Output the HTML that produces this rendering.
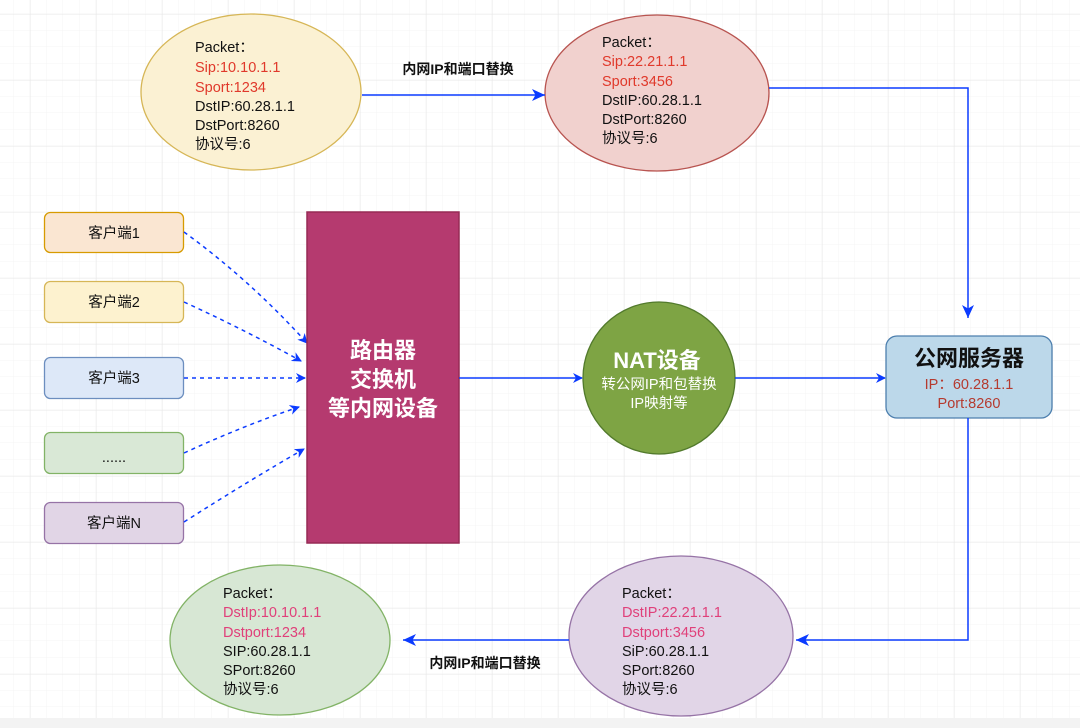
<!DOCTYPE html>
<html><head><meta charset="utf-8"><style>
html,body{margin:0;padding:0;background:#fff}
svg{display:block}
text{font-family:"Liberation Sans","Noto Sans CJK SC",sans-serif}
</style></head><body>
<svg width="1080" height="728" viewBox="0 0 1080 728" xmlns="http://www.w3.org/2000/svg">
<defs>
<pattern id="g" width="16.5" height="16.5" patternUnits="userSpaceOnUse"><path d="M16.5 0V16.5H0" fill="none" stroke="#f4f4f4" stroke-width="1"/></pattern>
<pattern id="G" width="66" height="66" patternUnits="userSpaceOnUse" x="30" y="14"><rect width="66" height="66" fill="url(#g)"/><path d="M0 0V66M0 0H66" fill="none" stroke="#e8e8e8" stroke-width="1"/></pattern>
<marker id="a" markerWidth="10" markerHeight="10" refX="9" refY="5" orient="auto" markerUnits="userSpaceOnUse"><path d="M0,0 L10,5 L0,10 L3,5 Z" fill="#0b3bff"/></marker>
<marker id="b" markerWidth="14" markerHeight="12" refX="13" refY="6" orient="auto" markerUnits="userSpaceOnUse"><path d="M0,0 L13,6 L0,12 L3.5,6 Z" fill="#0b3bff"/></marker>
</defs>
<rect width="1080" height="728" fill="url(#G)"/>
<rect y="718" width="1080" height="10" fill="#f3f3f3"/>

<ellipse cx="251" cy="92" rx="110" ry="78" fill="#fbf1d3" stroke="#d6b656" stroke-width="1.3"/>
<g font-size="14.5" fill="#111">
<text x="195" y="52">Packet：</text>
<text x="195" y="72" fill="#e0392b">Sip:10.10.1.1</text>
<text x="195" y="92" fill="#e0392b">Sport:1234</text>
<text x="195" y="111">DstIP:60.28.1.1</text>
<text x="195" y="130">DstPort:8260</text>
<text x="195" y="149">协议号:6</text>
</g>
<ellipse cx="657" cy="93" rx="112" ry="78" fill="#f1d1ce" stroke="#b85450" stroke-width="1.3"/>
<g font-size="14.5" fill="#111">
<text x="602" y="47">Packet：</text>
<text x="602" y="66" fill="#e0392b">Sip:22.21.1.1</text>
<text x="602" y="86" fill="#e0392b">Sport:3456</text>
<text x="602" y="105">DstIP:60.28.1.1</text>
<text x="602" y="124">DstPort:8260</text>
<text x="602" y="143">协议号:6</text>
</g>
<line x1="362" y1="95" x2="545" y2="95" stroke="#0b3bff" stroke-width="1.5" marker-end="url(#b)"/>
<text x="458" y="74" font-size="14" font-weight="bold" text-anchor="middle" fill="#111">内网IP和端口替换</text>
<polyline points="769,88 968,88 968,318" fill="none" stroke="#0b3bff" stroke-width="1.5" marker-end="url(#b)"/>

<g stroke-width="1.3">
<rect x="44.5" y="212.5" width="139" height="40" rx="6" fill="#fae6d2" stroke="#d79b00"/>
<rect x="44.5" y="281.5" width="139" height="41" rx="6" fill="#fdf2cf" stroke="#d6b656"/>
<rect x="44.5" y="357.5" width="139" height="41" rx="6" fill="#dde8f8" stroke="#6c8ebf"/>
<rect x="44.5" y="432.5" width="139" height="41" rx="6" fill="#d9e8d6" stroke="#82b366"/>
<rect x="44.5" y="502.5" width="139" height="41" rx="6" fill="#e1d5e6" stroke="#9673a6"/>
</g>
<g font-size="14.5" fill="#111" text-anchor="middle">
<text x="114" y="238">客户端1</text>
<text x="114" y="307">客户端2</text>
<text x="114" y="383">客户端3</text>
<text x="114" y="462">......</text>
<text x="114" y="528">客户端N</text>
</g>
<g stroke="#0b3bff" stroke-width="1.5" stroke-dasharray="4,4" fill="none">
<path d="M184,232 Q250,280 307,343" marker-end="url(#a)"/>
<path d="M184,302 Q245,330 301,361" marker-end="url(#a)"/>
<path d="M184,378 L305,378" marker-end="url(#a)"/>
<path d="M184,453 Q245,425 299,407" marker-end="url(#a)"/>
<path d="M184,522 Q250,480 304,449" marker-end="url(#a)"/>
</g>

<rect x="307" y="212" width="152" height="331" fill="#b53a6f" stroke="#962a55" stroke-width="1.5"/>
<g font-size="22" font-weight="bold" fill="#fff" text-anchor="middle">
<text x="383" y="358">路由器</text>
<text x="383" y="387">交换机</text>
<text x="383" y="416">等内网设备</text>
</g>
<line x1="459" y1="378" x2="582" y2="378" stroke="#0b3bff" stroke-width="1.5" marker-end="url(#a)"/>

<circle cx="659" cy="378" r="76" fill="#7ea444" stroke="#527a2c" stroke-width="1.3"/>
<text x="657" y="368" font-size="22" font-weight="bold" fill="#fff" text-anchor="middle">NAT设备</text>
<g font-size="14.5" fill="#fff" text-anchor="middle">
<text x="659" y="389">转公网IP和包替换</text>
<text x="659" y="408">IP映射等</text>
</g>
<line x1="735" y1="378" x2="885" y2="378" stroke="#0b3bff" stroke-width="1.5" marker-end="url(#a)"/>

<rect x="886" y="336" width="166" height="82" rx="11" fill="#bcd8ea" stroke="#4d7fae" stroke-width="1.3"/>
<text x="969" y="366" font-size="22" font-weight="bold" fill="#111" text-anchor="middle">公网服务器</text>
<g font-size="14.5" fill="#b53a2f" text-anchor="middle">
<text x="969" y="389">IP：60.28.1.1</text>
<text x="969" y="408">Port:8260</text>
</g>
<polyline points="968,418 968,640 796,640" fill="none" stroke="#0b3bff" stroke-width="1.5" marker-end="url(#b)"/>

<ellipse cx="681" cy="636" rx="112" ry="80" fill="#e1d5e7" stroke="#9673a6" stroke-width="1.3"/>
<g font-size="14.5" fill="#111">
<text x="622" y="598">Packet：</text>
<text x="622" y="617" fill="#e0407a">DstIP:22.21.1.1</text>
<text x="622" y="637" fill="#e0407a">Dstport:3456</text>
<text x="622" y="656">SiP:60.28.1.1</text>
<text x="622" y="675">SPort:8260</text>
<text x="622" y="694">协议号:6</text>
</g>
<ellipse cx="280" cy="640" rx="110" ry="75" fill="#d7e7d4" stroke="#82b366" stroke-width="1.3"/>
<g font-size="14.5" fill="#111">
<text x="223" y="598">Packet：</text>
<text x="223" y="617" fill="#e0407a">DstIp:10.10.1.1</text>
<text x="223" y="637" fill="#e0407a">Dstport:1234</text>
<text x="223" y="656">SIP:60.28.1.1</text>
<text x="223" y="675">SPort:8260</text>
<text x="223" y="694">协议号:6</text>
</g>
<line x1="569" y1="640" x2="403" y2="640" stroke="#0b3bff" stroke-width="1.5" marker-end="url(#b)"/>
<text x="485" y="668" font-size="14" font-weight="bold" text-anchor="middle" fill="#111">内网IP和端口替换</text>
</svg>
</body></html>
